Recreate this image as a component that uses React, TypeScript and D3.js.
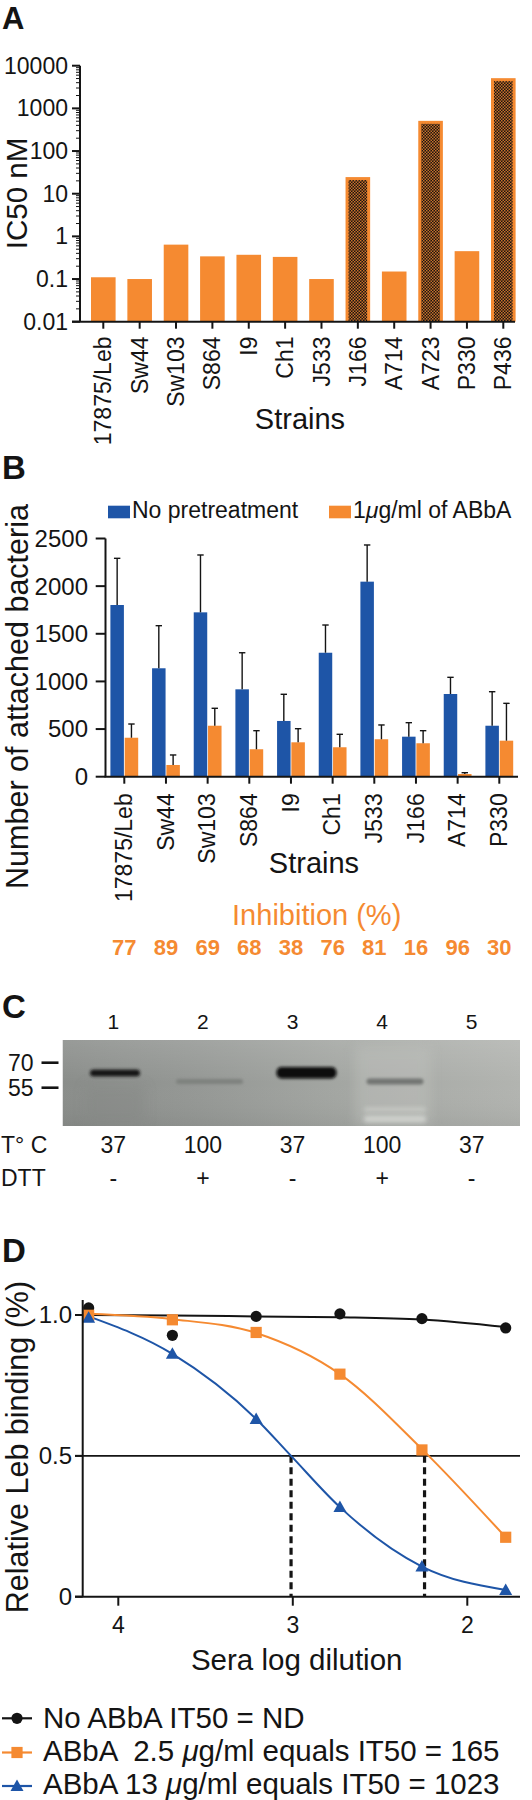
import React from 'react';
import * as d3 from 'd3';

const FONT = '"Liberation Sans", Arial, Helvetica, sans-serif';
const ORANGE = '#F58A31';
const BLUE = '#1E55A7';
const INK = '#141414';

// ---------- Panel A data ----------
const strainsA = ['17875/Leb', 'Sw44', 'Sw103', 'S864', 'I9', 'Ch1', 'J533', 'J166', 'A714', 'A723', 'P330', 'P436'];
const ic50 = [0.11, 0.1, 0.64, 0.34, 0.37, 0.33, 0.1, 24.5, 0.15, 510, 0.45, 5100];
const hatchedA = ['J166', 'A723', 'P436'];
const ticksA = [0.01, 0.1, 1, 10, 100, 1000, 10000];
const tickLabelsA = ['0.01', '0.1', '1', '10', '100', '1000', '10000'];

// ---------- Panel B data ----------
const strainsB = ['17875/Leb', 'Sw44', 'Sw103', 'S864', 'I9', 'Ch1', 'J533', 'J166', 'A714', 'P330'];
const noPre = [1802, 1138, 1725, 917, 585, 1301, 2047, 420, 868, 535];
const noPreSD = [490, 447, 602, 384, 280, 291, 385, 147, 175, 357];
const withAbba = [409, 123, 535, 288, 361, 309, 393, 351, 28, 378];
const withAbbaSD = [144, 105, 183, 195, 143, 136, 150, 132, 14, 392];
const inhibition = [77, 89, 69, 68, 38, 76, 81, 16, 96, 30];
const ticksB = [0, 500, 1000, 1500, 2000, 2500];

// ---------- Panel C data ----------
const lanes = ['1', '2', '3', '4', '5'];
const temps = ['37', '100', '37', '100', '37'];
const dtt = ['-', '+', '-', '+', '-'];
const markers = ['70', '55'];

// ---------- Panel D data ----------
const logDil = [4.17, 3.69, 3.21, 2.73, 2.26, 1.78];
const noAbba = [1.025, 0.928, 0.995, 1.004, 0.987, 0.954];
const abba25 = [0.999, 0.983, 0.938, 0.79, 0.521, 0.211];
const abba13 = [0.99, 0.862, 0.631, 0.318, 0.107, 0.024];
// fitted curves (log dilution, relative binding)
const fitNoAbba: [number, number][] = [[4.17, 1.0], [3.69, 0.998], [3.21, 0.995], [2.73, 0.992], [2.26, 0.984], [1.78, 0.957]];
const fitAbba25: [number, number][] = [[4.17, 1.004], [3.69, 0.985], [3.21, 0.936], [2.73, 0.79], [2.26, 0.524], [1.78, 0.211]];
const fitAbba13: [number, number][] = [[4.17, 0.995], [3.69, 0.862], [3.21, 0.631], [3.01, 0.5], [2.73, 0.318], [2.26, 0.107], [1.78, 0.024]];
const dashedAt = [3.01, 2.245];
const ticksDX = [4, 3, 2];
const ticksDY = [0, 0.5, 1];
const tickLabelsDY = ['0', '0.5', '1.0'];
const legendD = [
  'No ABbA IT50 = ND',
  'ABbA  2.5 \u03bcg/ml equals IT50 = 165',
  'ABbA 13 \u03bcg/ml equals IT50 = 1023',
];

function PanelA() {
  const y = d3.scaleLog().domain([0.01, 10000]).range([321.7, 65.7]);
  const x = d3.scalePoint<string>().domain(strainsA).range([103.3, 503.3]);
  const bw = 24.6;
  const minor: number[] = [];
  for (let e = -2; e < 4; e++) for (let m = 2; m <= 9; m++) minor.push(m * Math.pow(10, e));
  const y0 = y(0.01);
  return (
    <g>
      <text x={2} y={29} fontSize={31} fontWeight="bold" fill={INK}>A</text>
      {strainsA.map((s, i) => {
        const cx = x(s)!;
        const top = y(ic50[i]);
        const hatched = hatchedA.includes(s);
        return (
          <g key={s}>
            <rect x={cx - bw / 2} y={top} width={bw} height={y0 - top} fill={ORANGE} />
            {hatched && (
              <rect x={cx - bw / 2 + 3} y={top + 3} width={bw - 6} height={y0 - top - 3} fill="url(#checker)" />
            )}
          </g>
        );
      })}
      <line x1={80} x2={80} y1={y(10000)} y2={y0} stroke={INK} strokeWidth={2} />
      {minor.map((v, i) => (
        <line key={i} x1={76} x2={80} y1={y(v)} y2={y(v)} stroke={INK} strokeWidth={1} />
      ))}
      {ticksA.map((v, i) => (
        <g key={v}>
          <line x1={72} x2={80} y1={y(v)} y2={y(v)} stroke={INK} strokeWidth={2} />
          <text x={68} y={y(v)} dy="0.35em" textAnchor="end" fontSize={23} fill={INK}>{tickLabelsA[i]}</text>
        </g>
      ))}
      <line x1={72} x2={515} y1={y0} y2={y0} stroke={INK} strokeWidth={2} />
      {strainsA.map((s) => (
        <g key={s}>
          <line x1={x(s)} x2={x(s)} y1={y0} y2={y0 + 7} stroke={INK} strokeWidth={2} />
          <text transform={`translate(${x(s)},${336.5}) rotate(-90)`} textAnchor="end" dy="0.35em" fontSize={23} fill={INK}>{s}</text>
        </g>
      ))}
      <text x={300} y={429} textAnchor="middle" fontSize={29} fill={INK}>Strains</text>
      <text transform="translate(27,193.5) rotate(-90)" textAnchor="middle" fontSize={29.5} fill={INK}>IC50 nM</text>
    </g>
  );
}

function PanelB() {
  const y = d3.scaleLinear().domain([0, 2500]).range([776.7, 538.5]);
  const x = d3.scalePoint<string>().domain(strainsB).range([124.3, 499.3]);
  const bw = 13.5;
  const y0 = y(0);
  return (
    <g>
      <text x={2} y={479} fontSize={33} fontWeight="bold" fill={INK}>B</text>
      <rect x={108} y={505.7} width={22} height={12.6} fill={BLUE} />
      <text x={132} y={518.3} fontSize={23} fill={INK}>No pretreatment</text>
      <rect x={329} y={505.7} width={22} height={12.6} fill={ORANGE} />
      <text x={353} y={518.3} fontSize={23} fill={INK}>1<tspan fontStyle="italic">{'\u03bc'}</tspan>g/ml of ABbA</text>
      {strainsB.map((s, i) => {
        const c = x(s)!;
        const bx = c - bw / 2 - 0.4;
        const ox = c + bw / 2 + 0.4;
        const eb = y(noPre[i] + noPreSD[i]);
        const eo = y(withAbba[i] + withAbbaSD[i]);
        return (
          <g key={s}>
            <rect x={c - bw - 0.4} y={y(noPre[i])} width={bw} height={y0 - y(noPre[i])} fill={BLUE} />
            <rect x={c + 0.4} y={y(withAbba[i])} width={bw} height={y0 - y(withAbba[i])} fill={ORANGE} />
            <line x1={bx} x2={bx} y1={y(noPre[i])} y2={eb} stroke={INK} strokeWidth={1.4} />
            <line x1={bx - 3.2} x2={bx + 3.2} y1={eb} y2={eb} stroke={INK} strokeWidth={1.4} />
            <line x1={ox} x2={ox} y1={y(withAbba[i])} y2={eo} stroke={INK} strokeWidth={1.4} />
            <line x1={ox - 3.2} x2={ox + 3.2} y1={eo} y2={eo} stroke={INK} strokeWidth={1.4} />
          </g>
        );
      })}
      <line x1={105.5} x2={105.5} y1={y(2500)} y2={y0} stroke={INK} strokeWidth={2} />
      {ticksB.map((v) => (
        <g key={v}>
          <line x1={95.7} x2={105.5} y1={y(v)} y2={y(v)} stroke={INK} strokeWidth={2} />
          <text x={88} y={y(v)} dy="0.35em" textAnchor="end" fontSize={24} fill={INK}>{v}</text>
        </g>
      ))}
      <line x1={104.5} x2={518} y1={y0} y2={y0} stroke={INK} strokeWidth={2} />
      {strainsB.map((s, i) => (
        <g key={s}>
          <line x1={x(s)} x2={x(s)} y1={y0} y2={y0 + 7} stroke={INK} strokeWidth={2} />
          <text transform={`translate(${x(s)! - 0.5},${793.3}) rotate(-90)`} textAnchor="end" dy="0.35em" fontSize={23} fill={INK}>{s}</text>
          <text x={x(s)} y={955} textAnchor="middle" fontSize={22} fontWeight="bold" fill={ORANGE}>{inhibition[i]}</text>
        </g>
      ))}
      <text x={314} y={873} textAnchor="middle" fontSize={29} fill={INK}>Strains</text>
      <text x={316.7} y={925} textAnchor="middle" fontSize={29} fill={ORANGE}>Inhibition (%)</text>
      <text transform="translate(27.5,696.5) rotate(-90)" textAnchor="middle" fontSize={30.5} fill={INK}>Number of attached bacteria</text>
    </g>
  );
}

function PanelC() {
  const laneX = d3.scalePoint<string>().domain(lanes).range([113.3, 471.7]);
  const lx = (i: number) => laneX(lanes[i])!;
  const bx0 = 62.5, bx1 = 520, by0 = 1040, by1 = 1126;
  const markerY = [1062.7, 1087.7];
  return (
    <g>
      <text x={2} y={1018} fontSize={33} fontWeight="bold" fill={INK}>C</text>
      {lanes.map((l, i) => (
        <text key={l} x={lx(i)} y={1029.3} textAnchor="middle" fontSize={21} fill={INK}>{l}</text>
      ))}
      <g clipPath="url(#blotClip)">
        <rect x={bx0} y={by0} width={bx1 - bx0} height={by1 - by0} fill="url(#blotBg)" />
        <rect x={bx0} y={by0} width={bx1 - bx0} height={by1 - by0} fill="url(#blotV)" />
        <rect x={355} y={by0 + 6} width={76} height={by1 - by0 - 6} fill="#c0c2be" opacity={0.45} filter="url(#bigBlur)" />
        <rect x={85} y={1085} width={60} height={40} fill="#858885" opacity={0.45} filter="url(#bigBlur)" />
        <rect x={90} y={1069.5} width={50} height={7} rx={3.5} fill="#151515" filter="url(#blur)" />
        <rect x={176} y={1079} width={67} height={5} rx={2.5} fill="#7e817e" filter="url(#blur)" />
        <rect x={276.5} y={1067} width={60} height={11.5} rx={5} fill="#0a0a0a" filter="url(#blur)" />
        <rect x={366.5} y={1078.5} width={57} height={6} rx={3} fill="#727572" filter="url(#blur)" />
        <rect x={364} y={1107.5} width={62} height={4} rx={2} fill="#cfd1cd" opacity={0.75} filter="url(#blur2)" />
        <rect x={364} y={1115.5} width={62} height={7} rx={3} fill="#d6d8d4" opacity={0.8} filter="url(#blur2)" />
      </g>
      {markers.map((m, i) => (
        <g key={m}>
          <text x={33.5} y={markerY[i]} dy="0.35em" textAnchor="end" fontSize={23} fill={INK}>{m}</text>
          <line x1={41.5} x2={58.5} y1={markerY[i]} y2={markerY[i]} stroke={INK} strokeWidth={2.6} />
        </g>
      ))}
      <text x={1} y={1153.3} fontSize={23} fill={INK}>T° C</text>
      <text x={1} y={1185.7} fontSize={23} fill={INK}>DTT</text>
      {lanes.map((l, i) => (
        <g key={l}>
          <text x={lx(i)} y={1153.3} textAnchor="middle" fontSize={23} fill={INK}>{temps[i]}</text>
          <text x={lx(i)} y={1185.7} textAnchor="middle" fontSize={23} fill={INK}>{dtt[i]}</text>
        </g>
      ))}
    </g>
  );
}

function PanelD() {
  const x = d3.scaleLinear().domain([4, 2]).range([118.3, 467.3]);
  const y = d3.scaleLinear().domain([0, 1]).range([1596.7, 1315]);
  const series = [
    { vals: noAbba, fit: fitNoAbba, color: INK, shape: 'circle' },
    { vals: abba25, fit: fitAbba25, color: ORANGE, shape: 'square' },
    { vals: abba13, fit: fitAbba13, color: BLUE, shape: 'triangle' },
  ];
  const line = d3.line<[number, number]>().x((d) => x(d[0])).y((d) => y(d[1])).curve(d3.curveMonotoneX);
  const marker = (shape: string, cx: number, cy: number, color: string, key: any) => {
    if (shape === 'circle') return <circle key={key} cx={cx} cy={cy} r={5.6} fill={color} />;
    if (shape === 'square') return <rect key={key} x={cx - 5.6} y={cy - 5.6} width={11.2} height={11.2} fill={color} />;
    return <path key={key} d={`M${cx},${cy - 6.5}L${cx + 6.5},${cy + 5}L${cx - 6.5},${cy + 5}Z`} fill={color} />;
  };
  const y0 = y(0);
  const legendY = [1718.3, 1752.5, 1786];
  const legendBase = [1727.5, 1761, 1794];
  return (
    <g>
      <text x={2} y={1262} fontSize={33} fontWeight="bold" fill={INK}>D</text>
      <line x1={75} x2={520} y1={y(0.5)} y2={y(0.5)} stroke={INK} strokeWidth={1.6} />
      {dashedAt.map((d) => (
        <line key={d} x1={x(d)} x2={x(d)} y1={y(0.5)} y2={y0} stroke={INK} strokeWidth={3.2} strokeDasharray="7,4.5" />
      ))}
      {series.map((s, si) => (
        <path key={si} d={line(s.fit) || ''} fill="none" stroke={s.color} strokeWidth={2} />
      ))}
      {series.map((s, si) => s.vals.map((v, i) => marker(s.shape, x(logDil[i]), y(v), s.color, `${si}-${i}`)))}
      <line x1={82.7} x2={82.7} y1={1300} y2={y0} stroke={INK} strokeWidth={2} />
      <line x1={75} x2={520} y1={y0} y2={y0} stroke={INK} strokeWidth={2} />
      {ticksDY.map((v, i) => (
        <g key={v}>
          <line x1={75} x2={82.7} y1={y(v)} y2={y(v)} stroke={INK} strokeWidth={2} />
          <text x={72} y={y(v)} dy="0.35em" textAnchor="end" fontSize={24} fill={INK}>{tickLabelsDY[i]}</text>
        </g>
      ))}
      {ticksDX.map((v) => (
        <g key={v}>
          <line x1={x(v)} x2={x(v)} y1={y0} y2={y0 + 9} stroke={INK} strokeWidth={2} />
          <text x={x(v)} y={1632.7} textAnchor="middle" fontSize={23} fill={INK}>{v}</text>
        </g>
      ))}
      <text x={296.7} y={1670} textAnchor="middle" fontSize={29.5} fill={INK}>Sera log dilution</text>
      <text transform="translate(27.5,1447) rotate(-90)" textAnchor="middle" fontSize={30.5} fill={INK}>Relative Leb binding (%)</text>
      {series.map((s, i) => {
        const parts = legendD[i].split('\u03bc');
        return (
          <g key={i}>
            <line x1={2} x2={32} y1={legendY[i]} y2={legendY[i]} stroke={s.color} strokeWidth={2.2} />
            {marker(s.shape, 17, legendY[i], s.color, 'lg' + i)}
            <text x={43} y={legendBase[i]} fontSize={29.5} fill={INK} style={{ whiteSpace: 'pre' }}>
              {parts[0]}
              {parts.length > 1 && <tspan fontStyle="italic">{'\u03bc'}</tspan>}
              {parts.length > 1 && parts[1]}
            </text>
          </g>
        );
      })}
    </g>
  );
}

export default function App() {
  return (
    <div style={{ position: 'absolute', left: 0, top: 0 }}>
      <svg width={532} height={1800} viewBox="0 0 532 1800" fontFamily={FONT} style={{ display: 'block', background: '#fff' }}>
        <defs>
          <pattern id="checker" width={3} height={3} patternUnits="userSpaceOnUse">
            <rect width={3} height={3} fill="#1a1410" />
            <rect x={0} y={0} width={1.5} height={1.5} fill="#c8702a" />
            <rect x={1.5} y={1.5} width={1.5} height={1.5} fill="#c8702a" />
          </pattern>
          <linearGradient id="blotBg" x1="0" x2="1" y1="0" y2="0">
            <stop offset="0%" stopColor="#8a8d8a" />
            <stop offset="30%" stopColor="#959895" />
            <stop offset="60%" stopColor="#a3a6a2" />
            <stop offset="100%" stopColor="#b2b4b0" />
          </linearGradient>
          <linearGradient id="blotV" x1="0" x2="0" y1="0" y2="1">
            <stop offset="0%" stopColor="#ffffff" stopOpacity={0.12} />
            <stop offset="50%" stopColor="#ffffff" stopOpacity={0} />
            <stop offset="100%" stopColor="#000000" stopOpacity={0.05} />
          </linearGradient>
          <filter id="blur" x="-30%" y="-100%" width="160%" height="300%">
            <feGaussianBlur stdDeviation={1.6} />
          </filter>
          <filter id="blur2" x="-30%" y="-150%" width="160%" height="400%">
            <feGaussianBlur stdDeviation={2.2} />
          </filter>
          <filter id="bigBlur" x="-50%" y="-50%" width="200%" height="200%">
            <feGaussianBlur stdDeviation={6} />
          </filter>
          <clipPath id="blotClip">
            <rect x={62.5} y={1040} width={457.5} height={86} />
          </clipPath>
        </defs>
        <PanelA />
        <PanelB />
        <PanelC />
        <PanelD />
      </svg>
    </div>
  );
}
